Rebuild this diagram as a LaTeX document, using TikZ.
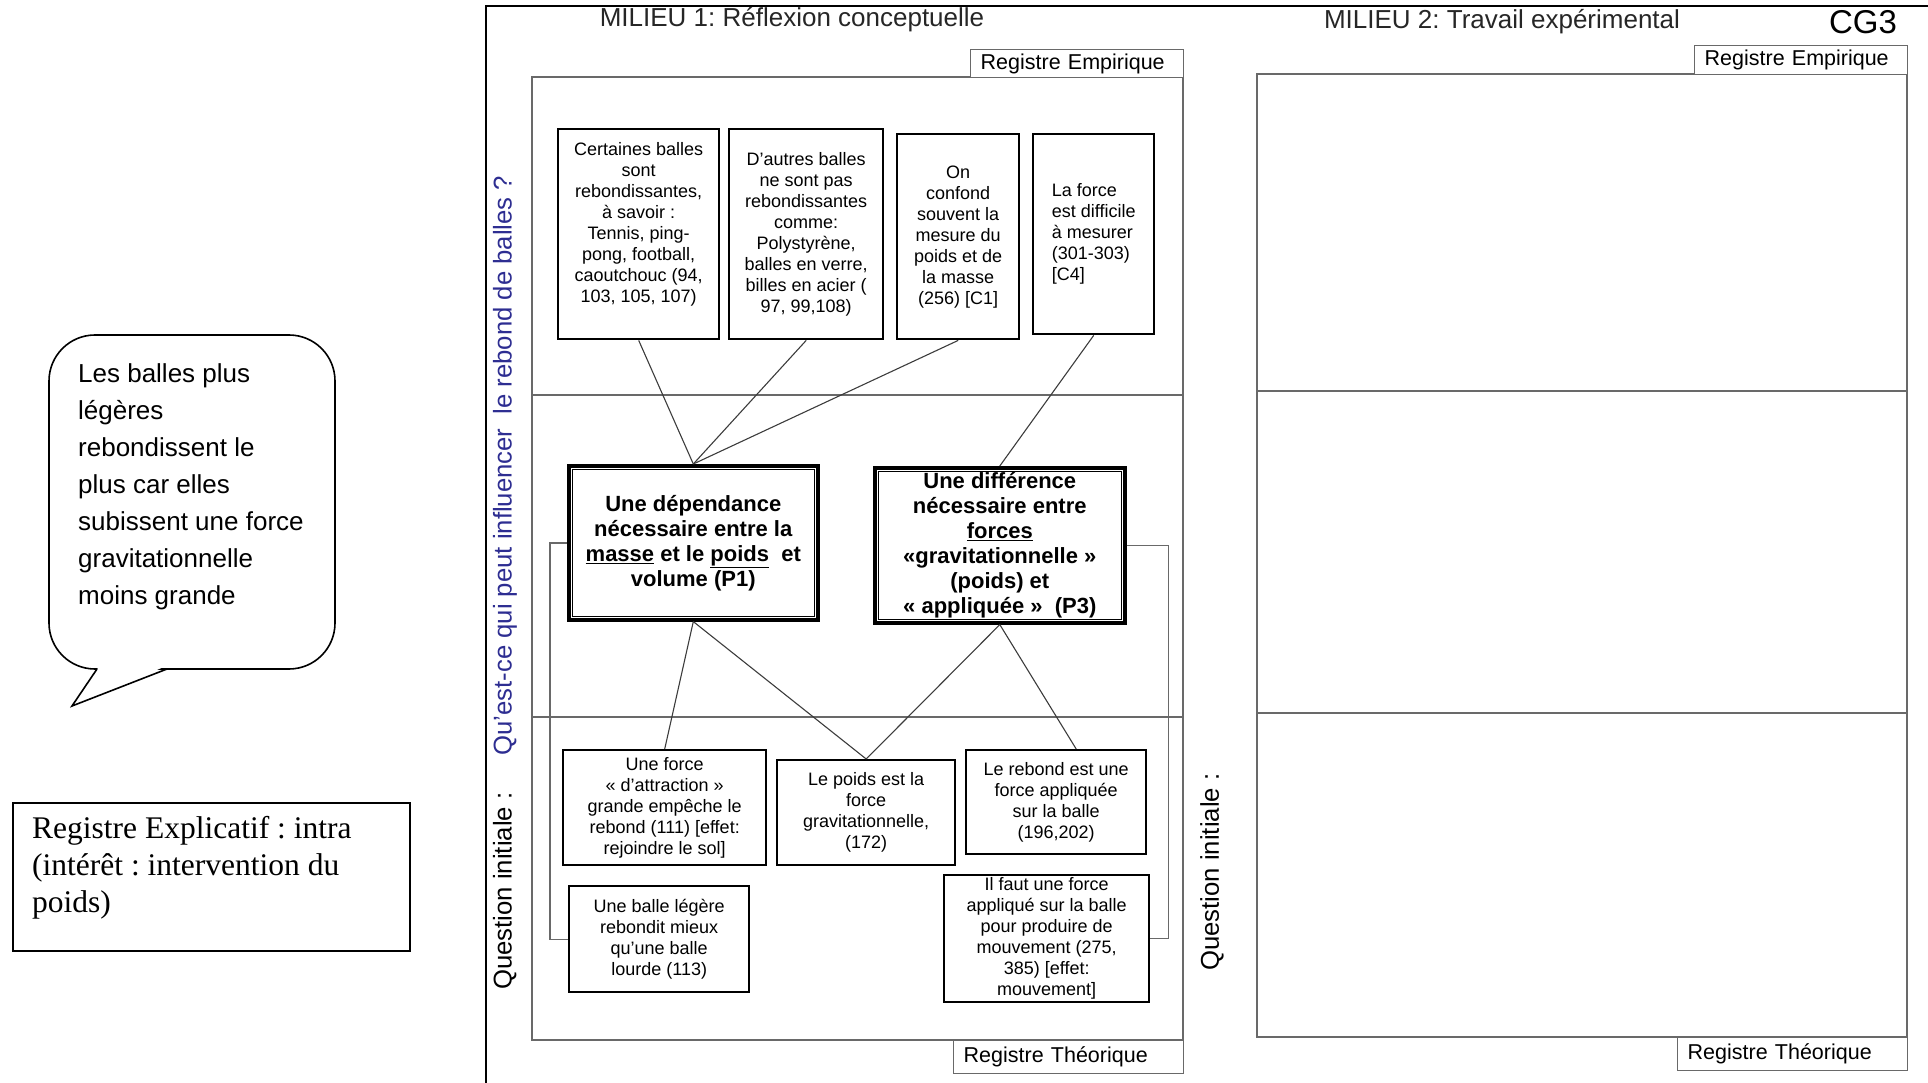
\documentclass[tikz,border=0pt]{standalone}
\usepackage{fontspec}
\setmainfont{Liberation Sans}
\newfontfamily\seriffont{Liberation Serif}
\definecolor{qblue}{RGB}{45,45,145}
\definecolor{framegray}{RGB}{105,105,105}
\definecolor{linegray}{RGB}{60,60,60}
\frenchspacing
\begin{document}
\frenchspacing
\begin{tikzpicture}[x=1pt,y=-1pt,
  frame/.style={draw=framegray, line width=1.6pt},
  tab/.style={draw=framegray, line width=1.4pt, fill=white, inner ysep=0pt, inner xsep=10pt,
              anchor=north west, align=left},
  tabtext/.style={font=\fontsize{21.5}{25}\selectfont},
  title/.style={font=\fontsize{26}{30}\selectfont, inner sep=0pt, text=black!85},
  box/.style={draw=black, line width=2.4pt, fill=white, inner sep=0pt, anchor=north west,
              font=\fontsize{18}{21}\selectfont, align=center},
  pbox/.style={draw=black, line width=3.6pt, fill=white, inner sep=0pt, anchor=north west,
              font=\bfseries\fontsize{22}{25}\selectfont, align=center},
  pinner/.style={draw=black, line width=1pt},
  conn/.style={draw=linegray, line width=1.1pt},
  bracket/.style={draw=framegray, line width=1.4pt},
  vtext/.style={rotate=90, font=\fontsize{25.7}{30}\selectfont, inner sep=0pt, anchor=west}
]
\useasboundingbox (0,0) rectangle (1928,1083);

% outer frame
\draw[line width=2.2pt] (1940,6) -- (486,6) -- (486,1095);

% ---------- MILIEU 1 ----------
\node[title] (t1) at (792,20) {MILIEU 1: Réflexion conceptuelle};
\draw[frame] (532,77) rectangle (1183,1040);
\draw[frame] (532,395) -- (1183,395);
\draw[frame] (532,717) -- (1183,717);
\node[tab, text width=193, minimum height=28, tabtext] (re1) at (970,49) {Registre Empirique};
\node[tab, text width=210, minimum height=33, tabtext] (rt1) at (953,1040) {Registre Théorique};

% ---------- MILIEU 2 ----------
\node[title] (t2) at (1502,22) {MILIEU 2: Travail expérimental};
\node[inner sep=0pt, font=\fontsize{33}{36}\selectfont] (cg) at (1863,22) {CG3};
\draw[frame] (1257,74) rectangle (1907,1037);
\draw[frame] (1257,391) -- (1907,391);
\draw[frame] (1257,713) -- (1907,713);
\node[tab, text width=193, minimum height=29, tabtext] (re2) at (1694,45) {Registre Empirique};
\node[tab, text width=210, minimum height=33, tabtext] (rt2) at (1677,1037) {Registre Théorique};

% vertical texts
\node[vtext] (q1) at (505,990) {Question initiale :\hspace{37pt}\textcolor{qblue}{Qu’est-ce qui peut influencer\ \ le rebond de balles ?}};
\node[vtext] (q2) at (1212,971) {Question initiale :};

% ---------- top boxes ----------
\node[box, minimum width=161, minimum height=210] (b1) at (557,128) {};
\node[inner sep=0pt, font=\fontsize{18}{21}\selectfont, align=center] (b1t) at ([yshift=10pt]b1.center)
  {Certaines balles\\sont\\rebondissantes,\\à savoir :\\Tennis, ping-\\pong, football,\\caoutchouc (94,\\103, 105,\ 107)};
\node[box, minimum width=154, minimum height=210] (b2) at (728,128)
  {D'autres balles\\ne sont pas\\rebondissantes\\comme:\\Polystyrène,\\balles en verre,\\billes en acier (\\97, 99,108)};
\node[box, minimum width=122, minimum height=205] (b3) at (896,133)
  {On\\confond\\souvent la\\mesure du\\poids et de\\la masse\\(256) [C1]};
\node[box, minimum width=121, minimum height=200, align=left] (b4) at (1032,133)
  {La force\\est difficile\\à mesurer\\(301-303)\\{}[C4]};

% ---------- P boxes ----------
\node[pbox, minimum width=249, minimum height=154] (p1) at (567,464)
  {Une dépendance\\nécessaire entre la\\\underline{masse} et le \underline{poids}\ \ et\\volume (P1)};
\draw[pinner] ([shift={(5,5)}]p1.north west) rectangle ([shift={(-5,-5)}]p1.south east);
\node[pbox, minimum width=250, minimum height=155] (p3) at (873,466)
  {Une différence\\nécessaire entre\\\underline{forces}\\«gravitationnelle »\\(poids) et\\« appliquée »\ \ (P3)};
\draw[pinner] ([shift={(5,5)}]p3.north west) rectangle ([shift={(-5,-5)}]p3.south east);

% ---------- bottom boxes ----------
\node[box, minimum width=203, minimum height=115] (b5) at (562,749)
  {Une force\\« d'attraction »\\grande empêche le\\rebond (111) [effet:\\rejoindre le sol]};
\node[box, minimum width=178, minimum height=105] (b6) at (776,759)
  {Le poids est la\\force\\gravitationnelle,\\(172)};
\node[box, minimum width=180, minimum height=104] (b7) at (965,749)
  {Le rebond est une\\force appliquée\\sur la balle\\(196,202)};
\node[box, minimum width=180, minimum height=106] (b8) at (568,885)
  {Une balle légère\\rebondit mieux\\qu'une balle\\lourde (113)};
\node[box, minimum width=205, minimum height=127] (b9) at (943,874)
  {Il faut une force\\appliqué sur la balle\\pour produire de\\mouvement (275,\\385) [effet:\\mouvement]};

% ---------- connectors ----------
\draw[conn] (b1.south) -- (p1.north);
\draw[conn] (b2.south) -- (p1.north);
\draw[conn] (b3.south) -- (p1.north);
\draw[conn] (b4.south) -- (p3.north);
\draw[conn] (p1.south) -- (b5.north);
\draw[conn] (p1.south) -- (b6.north);
\draw[conn] (p3.south) -- (b6.north);
\draw[conn] (p3.south) -- ([xshift=20pt]b7.north);
\draw[bracket] (p1.west) -| ([xshift=-18pt]b8.west) -- (b8.west);
\draw[bracket] (p3.east) -| ([xshift=18pt]b9.east) -- (b9.east);

% ---------- speech bubble ----------
\draw[line width=1.6pt, rounded corners=46, fill=white] (49,335) rectangle (335,669);
\fill[white] (99,666.5) -- (72,706) -- (165,666.5) -- cycle;
\coordinate (tl) at (97,669);
\coordinate (tip) at (72,706);
\coordinate (tr) at (167,669);
\draw[line width=1.6pt, line join=miter] (tl) -- (tip) -- (tr);
\node[inner sep=0pt, anchor=west, align=left, font=\fontsize{26}{37}\selectfont] (bt) at (78,487)
  {Les balles plus\\légères\\rebondissent le\\plus car elles\\subissent une force\\gravitationnelle\\moins grande};

% ---------- Registre Explicatif ----------
\node[draw, line width=1.6pt, minimum width=397, minimum height=148, anchor=north west, inner sep=0pt] (rex) at (12,802) {};
\node[inner sep=0pt, anchor=west, align=left, font=\seriffont\fontsize{31.5}{37}\selectfont] (rext) at (32,868)
  {Registre Explicatif : intra\\(intérêt : intervention du\\poids)};
\end{tikzpicture}
\end{document}
